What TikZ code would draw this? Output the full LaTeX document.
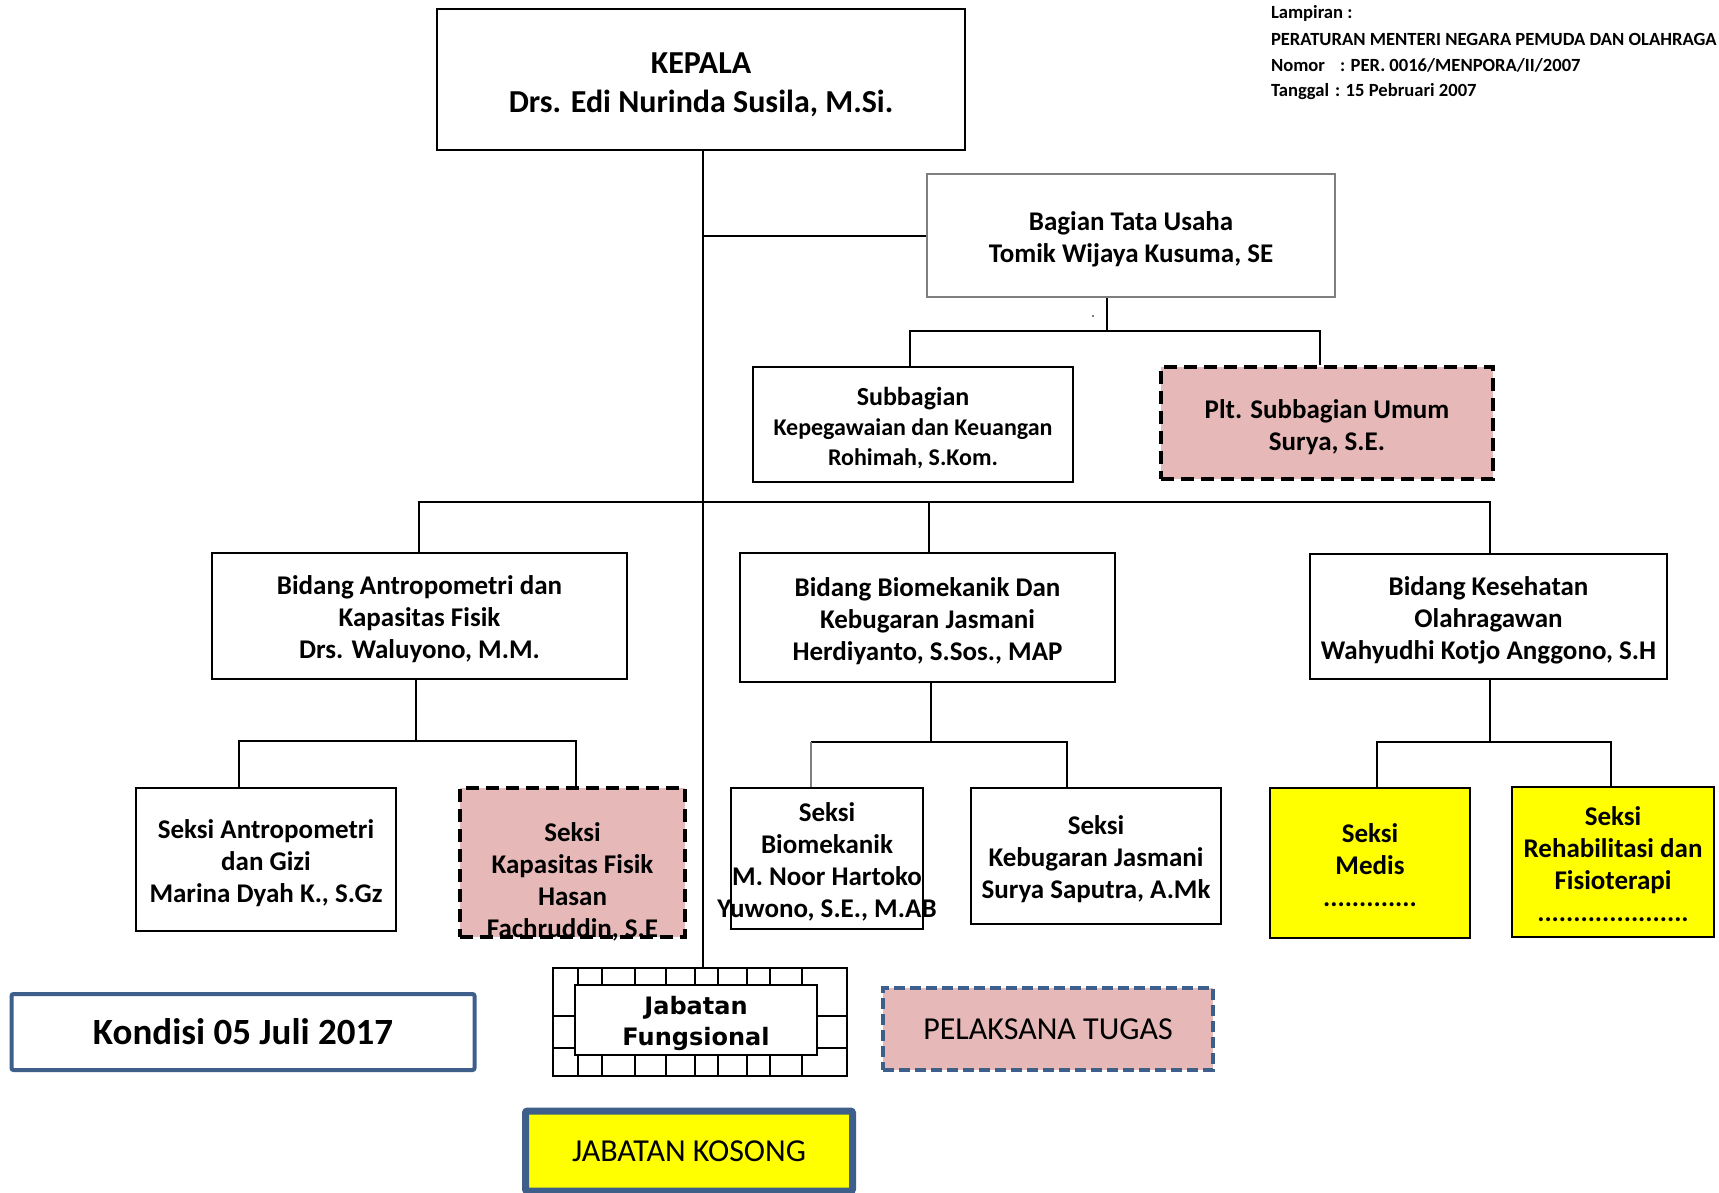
\documentclass[tikz,border=0pt]{standalone}
\usepackage{fontspec}
\setmainfont{Carlito}
\newfontfamily\dvsans{DejaVu Sans}
\usetikzlibrary{calc}
\definecolor{pinkf}{HTML}{E6B9B8}
\definecolor{bluebd}{HTML}{3E5F8A}
\definecolor{graybd}{HTML}{7F7F7F}
\definecolor{yelf}{HTML}{FFFF00}
\begin{document}
\begin{tikzpicture}[x=1pt,y=-1pt,
  line width=2pt,
  conn/.style={draw=black, line width=2pt},
  box/.style={draw=black, line width=2pt, fill=white, align=center, inner sep=0pt},
  dbox/.style={box, fill=pinkf, line width=4pt, dash pattern=on 13pt off 7pt},
  ybox/.style={box, fill=yelf, line width=2.5pt},
  fbig/.style={font=\fontsize{32}{39}\selectfont\bfseries},
  fmid/.style={font=\fontsize{27}{32}\selectfont\bfseries},
  fsub/.style={font=\fontsize{24}{30}\selectfont\bfseries},
  fsek/.style={font=\fontsize{27}{32}\selectfont\bfseries},
  hdr/.style={anchor=base west, inner sep=0pt, font=\fontsize{18.6}{22}\selectfont\bfseries},
  txt/.style={align=center, inner sep=0pt},
]
\useasboundingbox (0,0) rectangle (1719,1192);

% header
\node[hdr] (h1) at (1270,18) {Lampiran :};
\node[hdr] (h2) at (1270,45) {PERATURAN MENTERI NEGARA PEMUDA DAN OLAHRAGA};
\node[hdr] (h3) at (1270,71) {Nomor};
\node[hdr] (h3b) at (1339,71) {: PER. 0016/MENPORA/II/2007};
\node[hdr] (h4) at (1270,96) {Tanggal};
\node[hdr] (h4b) at (1334,96) {: 15 Pebruari 2007};

\coordinate (tr) at (703,0);

% boxes
\node[box, minimum width=528, minimum height=141] (kepala) at (701,79.5) {};
\node[txt, fbig] (kepalat) at (701,85) {KEPALA\\Drs. Edi Nurinda Susila, M.Si.};
\node[box, draw=graybd, line width=2.5pt, minimum width=408, minimum height=123] (btu) at (1131,235.5) {};
\node[txt, fmid] (btut) at (1131,239) {Bagian Tata Usaha\\Tomik Wijaya Kusuma, SE};
\node[box, minimum width=320, minimum height=115] (sub) at (913,424.5) {};
\node[txt, fsub] (subt) at (913,428) {{\fontsize{26}{30}\selectfont Subbagian}\\Kepegawaian dan Keuangan\\Rohimah, S.Kom.};
\node[dbox, minimum width=332, minimum height=112] (plt) at (1327,423) {};
\node[txt, fmid] (pltt) at (1327,427) {Plt. Subbagian Umum\\Surya, S.E.};

\node[box, minimum width=415, minimum height=126] (bA) at (419.5,616) {};
\node[txt, fsek] (bAt) at (419.5,619.5) {Bidang Antropometri dan\\Kapasitas Fisik\\Drs. Waluyono, M.M.};
\node[box, minimum width=375, minimum height=129] (bB) at (927.5,617.5) {};
\node[txt, fsek] (bBt) at (927.5,621) {Bidang Biomekanik Dan\\Kebugaran Jasmani\\Herdiyanto, S.Sos., MAP};
\node[box, minimum width=357, minimum height=125] (bK) at (1488.5,616.5) {};
\node[txt, fsek] (bKt) at (1488.5,620) {Bidang Kesehatan\\Olahragawan\\Wahyudhi Kotjo Anggono, S.H};

\node[box, minimum width=260, minimum height=143] (sA) at (266,859.5) {};
\node[txt, fsek] (sAt) at (266,863.5) {Seksi Antropometri\\dan Gizi\\Marina Dyah K., S.Gz};
\node[dbox, minimum width=225, minimum height=149] (sKF) at (572.5,862.5) {};
\node[txt, fsek] (sKFt) at (572.5,882) {Seksi\\Kapasitas Fisik\\Hasan\\Fachruddin, S.E};
\node[box, minimum width=192, minimum height=141] (sBio) at (827,858.5) {};
\node[txt, fsek] (sBiot) at (827,861.5) {Seksi\\Biomekanik\\M. Noor Hartoko\\Yuwono, S.E., M.AB};
\node[box, minimum width=250, minimum height=136] (sKeb) at (1096,856) {};
\node[txt, fsek] (sKebt) at (1096,859.5) {Seksi\\Kebugaran Jasmani\\Surya Saputra, A.Mk};
\node[ybox, minimum width=200, minimum height=150] (sMed) at (1370,863) {};
\node[txt, fsek] (sMedt) at (1370,865) {Seksi\\Medis\\.............};
\node[ybox, minimum width=202, minimum height=150] (sReh) at (1613,862) {};
\node[txt, fsek] (sReht) at (1613,864) {Seksi\\Rehabilitasi dan\\Fisioterapi\\.....................};

% stray dot
\fill[graybd] (1092,315) rectangle (1094,317);

% Jabatan Fungsional
\node[draw=black, line width=2.5pt, minimum width=294, minimum height=108, inner sep=0pt] (jf) at (700,1022) {};
\foreach \x in {578,602,635,666,695,718,747,770,802} {
  \draw[line width=2pt] (\x,968) -- (\x,985);
  \draw[line width=2pt] (\x,1055) -- (\x,1076);
}
\foreach \y in {1016,1048} {
  \draw[line width=2pt] (553,\y) -- (575,\y);
  \draw[line width=2pt] (817,\y) -- (847,\y);
}
\node[draw=black, fill=white, line width=2.5pt, minimum width=242, minimum height=70, inner sep=0pt] (jfin) at (696,1020) {};
\node[txt, font=\dvsans\fontsize{24}{31}\selectfont\bfseries] (jfint) at (696,1023) {Jabatan\\Fungsional};

% legend
\node[draw=bluebd, line width=4pt, rounded corners=2pt, minimum width=463, minimum height=76, inner sep=0pt, font=\fontsize{37}{42}\selectfont\bfseries] (kond) at (243,1032) {Kondisi 05 Juli 2017};
\node[draw=bluebd, fill=pinkf, line width=4pt, dash pattern=on 11pt off 5pt, minimum width=330, minimum height=82, inner sep=0pt, font=\fontsize{32}{38}\selectfont] (pel) at (1048,1029) {PELAKSANA TUGAS};
\node[draw=bluebd, fill=yelf, line width=7pt, rounded corners=2pt, minimum width=327, minimum height=80, inner sep=0pt, font=\fontsize{32}{36}\selectfont] (kos) at (689,1151) {JABATAN KOSONG};

% connectors
\draw[conn] (kepala.south -| tr) -- (jf.north -| tr);
\draw[conn] (btu.west) -- (btu.west -| tr);
\coordinate (b1) at (1107,331);
\coordinate (s1) at (910,331);
\coordinate (s2) at (1320,331);
\draw[conn] (btu.south -| b1) -- (b1);
\draw[conn] (s1 |- sub.north) -- (s1) -- (s2) -- (s2 |- plt.north);

\coordinate (m1) at (419,502);
\coordinate (m2) at (929,502);
\coordinate (m3) at (1490,502);
\draw[conn] (m1 |- bA.north) -- (m1) -- (m3) -- (m3 |- bK.north);
\draw[conn] (m2) -- (m2 |- bB.north);

\coordinate (a0) at (415.5,741);
\coordinate (a1) at (239,741);
\coordinate (a2) at (576,741);
\draw[conn] (bA.south -| a0) -- (a0);
\draw[conn] (a1 |- sA.north) -- (a1) -- (a2) -- (a2 |- sKF.north);

\coordinate (c0) at (931,742);
\coordinate (c1) at (811,742);
\coordinate (c2) at (1067,742);
\draw[conn] (bB.south -| c0) -- (c0);
\draw[conn] (c1) -- (c2) -- (c2 |- sKeb.north);
\draw[draw=graybd, line width=1.5pt] (c1) -- (c1 |- sBio.north);

\coordinate (k0) at (1490,742);
\coordinate (k1) at (1377,742);
\coordinate (k2) at (1611,742);
\draw[conn] (bK.south -| k0) -- (k0);
\draw[conn] (k1 |- sMed.north) -- (k1) -- (k2) -- (k2 |- sReh.north);
\end{tikzpicture}
\end{document}
